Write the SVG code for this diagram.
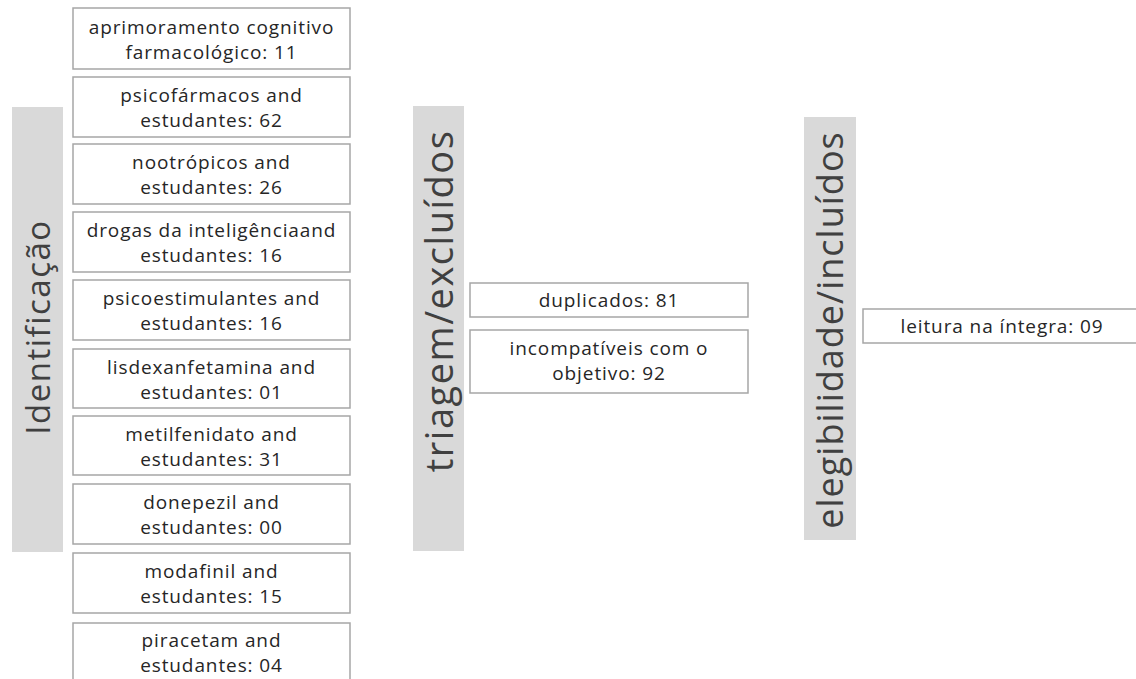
<svg xmlns="http://www.w3.org/2000/svg" width="1136" height="679" viewBox="0 0 1136 679">
<style>
.band{fill:#d9d9d9}
.box{fill:#fff;stroke:#a6a6a6;stroke-width:1.5}
.t{font-family:"Open Sans","Liberation Sans",sans-serif;font-size:19px;letter-spacing:0.9px;fill:#262626;text-anchor:middle}
.v{font-family:"Open Sans","Liberation Sans",sans-serif;fill:#404040;text-anchor:middle}
</style>
<rect width="1136" height="679" fill="#fff"/>
<g id="band-identificacao"><rect class="band" x="12" y="107" width="51" height="445"/><text class="v" style="font-size:33px;letter-spacing:1.5px" transform="translate(50,327) rotate(-90)">Identificação</text></g>
<g id="band-triagem"><rect class="band" x="413" y="106" width="51" height="445"/><text class="v" style="font-size:38px;letter-spacing:1.5px" transform="translate(453,301) rotate(-90)">triagem/excluídos</text></g>
<g id="band-elegibilidade"><rect class="band" x="804" y="117" width="52" height="423"/><text class="v" style="font-size:36px;letter-spacing:1px" transform="translate(843,330) rotate(-90)">elegibilidade/incluídos</text></g>
<g id="n1"><rect class="box" x="73" y="8" width="277" height="61"/><text class="t" x="211.5" y="34">aprimoramento cognitivo</text><text class="t" x="211.5" y="59">farmacológico: 11</text></g>
<g id="n2"><rect class="box" x="73" y="77" width="277" height="60"/><text class="t" x="211.5" y="102">psicofármacos and</text><text class="t" x="211.5" y="127">estudantes: 62</text></g>
<g id="n3"><rect class="box" x="73" y="144" width="277" height="60"/><text class="t" x="211.5" y="169">nootrópicos and</text><text class="t" x="211.5" y="194">estudantes: 26</text></g>
<g id="n4"><rect class="box" x="73" y="212" width="277" height="60"/><text class="t" x="211.5" y="237">drogas da inteligênciaand</text><text class="t" x="211.5" y="262">estudantes: 16</text></g>
<g id="n5"><rect class="box" x="73" y="280" width="277" height="60"/><text class="t" x="211.5" y="305">psicoestimulantes and</text><text class="t" x="211.5" y="330">estudantes: 16</text></g>
<g id="n6"><rect class="box" x="73" y="349" width="277" height="59"/><text class="t" x="211.5" y="374">lisdexanfetamina and</text><text class="t" x="211.5" y="399">estudantes: 01</text></g>
<g id="n7"><rect class="box" x="73" y="416" width="277" height="59"/><text class="t" x="211.5" y="441">metilfenidato  and</text><text class="t" x="211.5" y="466">estudantes: 31</text></g>
<g id="n8"><rect class="box" x="73" y="484" width="277" height="60"/><text class="t" x="211.5" y="509">donepezil and</text><text class="t" x="211.5" y="534">estudantes: 00</text></g>
<g id="n9"><rect class="box" x="73" y="553" width="277" height="60"/><text class="t" x="211.5" y="578">modafinil and</text><text class="t" x="211.5" y="603">estudantes: 15</text></g>
<g id="n10"><rect class="box" x="73" y="623" width="277" height="62"/><text class="t" x="211.5" y="647">piracetam and</text><text class="t" x="211.5" y="672">estudantes: 04</text></g>
<g id="n11"><rect class="box" x="470" y="283" width="278" height="34"/><text class="t" x="609" y="307">duplicados: 81</text></g>
<g id="n12"><rect class="box" x="470" y="330" width="278" height="63"/><text class="t" x="609" y="355">incompatíveis com o</text><text class="t" x="609" y="380">objetivo: 92</text></g>
<g id="n13"><rect class="box" x="863" y="309" width="280" height="34"/><text class="t" x="1002" y="333">leitura na íntegra: 09</text></g>
<g id="connectors"></g>
</svg>
